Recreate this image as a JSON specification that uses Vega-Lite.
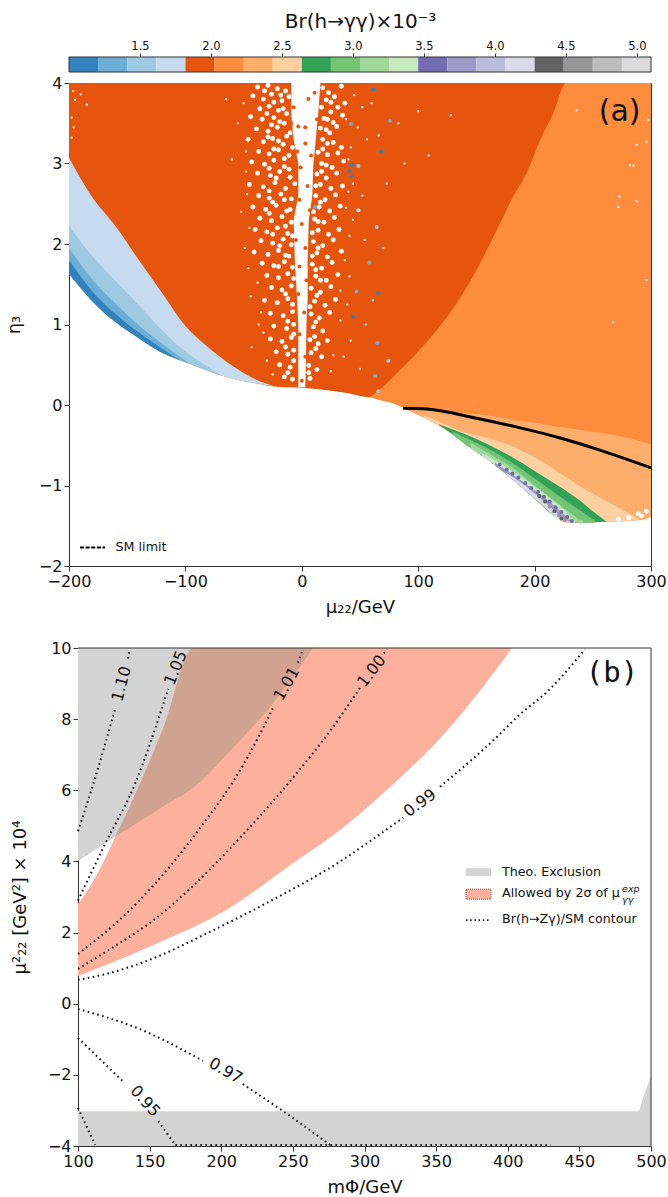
{
"$schema":"https://vega.github.io/schema/vega-lite/v6.json",
"padding":{"left":4,"top":10,"right":0,"bottom":0},
"align":"none",
"spacing":23,
"resolve":{"scale":{"color":"independent"}},
"config":{"font":"DejaVu Sans","view":{"stroke":"#333","strokeWidth":1},"axis":{"grid":false,"labelFontSize":16,"titleFontSize":18,"titleFontWeight":"normal","labelColor":"#111","titleColor":"#111","domainColor":"#333","tickColor":"#333","tickSize":5,"labelOverlap":false,"labelFlush":false},"text":{"color":"#111"}},
"datasets":{
"bands":[
{"mu":-200,"lo":1.63,"hi":4,"bin":5},{"mu":-180,"lo":1.29,"hi":4,"bin":5},{"mu":-160,"lo":1.03,"hi":4,"bin":5},{"mu":-140,"lo":0.83,"hi":4,"bin":5},{"mu":-120,"lo":0.65,"hi":4,"bin":5},{"mu":-100,"lo":0.53,"hi":4,"bin":5},{"mu":-80,"lo":0.42,"hi":4,"bin":5},{"mu":-60,"lo":0.33,"hi":4,"bin":5},{"mu":-40,"lo":0.27,"hi":4,"bin":5},{"mu":-20,"lo":0.225,"hi":4,"bin":5},{"mu":0,"lo":0.215,"hi":4,"bin":5},{"mu":20,"lo":0.187,"hi":4,"bin":5},{"mu":40,"lo":0.145,"hi":4,"bin":5},{"mu":58,"lo":0.095,"hi":4,"bin":5},{"mu":67,"lo":0.14,"hi":4,"bin":5},{"mu":78.6,"lo":0.3,"hi":4,"bin":5},{"mu":95.8,"lo":0.55,"hi":4,"bin":5},{"mu":115.9,"lo":0.88,"hi":4,"bin":5},{"mu":133,"lo":1.2,"hi":4,"bin":5},{"mu":150.2,"lo":1.6,"hi":4,"bin":5},{"mu":167.4,"lo":2.1,"hi":4,"bin":5},{"mu":181.7,"lo":2.5,"hi":4,"bin":5},{"mu":193,"lo":2.8,"hi":4,"bin":5},{"mu":206,"lo":3.25,"hi":4,"bin":5},{"mu":216,"lo":3.55,"hi":4,"bin":5},{"mu":228,"lo":4,"hi":4,"bin":5},
{"mu":-200,"lo":1.63,"hi":3.07,"bin":4},{"mu":-180,"lo":1.29,"hi":2.58,"bin":4},{"mu":-160,"lo":1.03,"hi":2.22,"bin":4},{"mu":-140,"lo":0.83,"hi":1.8,"bin":4},{"mu":-120,"lo":0.65,"hi":1.39,"bin":4},{"mu":-100,"lo":0.53,"hi":0.98,"bin":4},{"mu":-80,"lo":0.42,"hi":0.71,"bin":4},{"mu":-60,"lo":0.33,"hi":0.49,"bin":4},{"mu":-40,"lo":0.27,"hi":0.32,"bin":4},{"mu":-25,"lo":0.235,"hi":0.24,"bin":4},
{"mu":-200,"lo":1.63,"hi":2.22,"bin":3},{"mu":-180,"lo":1.29,"hi":1.85,"bin":3},{"mu":-160,"lo":1.03,"hi":1.54,"bin":3},{"mu":-140,"lo":0.83,"hi":1.24,"bin":3},{"mu":-120,"lo":0.65,"hi":0.93,"bin":3},{"mu":-100,"lo":0.53,"hi":0.66,"bin":3},{"mu":-80,"lo":0.42,"hi":0.47,"bin":3},{"mu":-70,"lo":0.375,"hi":0.38,"bin":3},
{"mu":-200,"lo":1.63,"hi":1.95,"bin":2},{"mu":-180,"lo":1.29,"hi":1.56,"bin":2},{"mu":-160,"lo":1.03,"hi":1.26,"bin":2},{"mu":-140,"lo":0.83,"hi":0.99,"bin":2},{"mu":-120,"lo":0.65,"hi":0.76,"bin":2},{"mu":-100,"lo":0.53,"hi":0.55,"bin":2},{"mu":-95,"lo":0.5,"hi":0.5,"bin":2},
{"mu":-200,"lo":1.63,"hi":1.80,"bin":1},{"mu":-180,"lo":1.29,"hi":1.41,"bin":1},{"mu":-160,"lo":1.03,"hi":1.13,"bin":1},{"mu":-140,"lo":0.83,"hi":0.90,"bin":1},{"mu":-120,"lo":0.65,"hi":0.70,"bin":1},{"mu":-108,"lo":0.58,"hi":0.58,"bin":1},
{"mu":58.6,"lo":0.095,"hi":0.10,"bin":6},{"mu":67,"lo":0.06,"hi":0.19,"bin":6},{"mu":78.6,"lo":0.02,"hi":0.35,"bin":6},{"mu":95.8,"lo":-0.095,"hi":0.6,"bin":6},{"mu":115.9,"lo":-0.24,"hi":0.93,"bin":6},{"mu":133,"lo":-0.40,"hi":1.26,"bin":6},{"mu":150.2,"lo":-0.58,"hi":1.68,"bin":6},{"mu":167.4,"lo":-0.76,"hi":2.17,"bin":6},{"mu":181.7,"lo":-0.93,"hi":2.59,"bin":6},{"mu":193,"lo":-1.07,"hi":2.88,"bin":6},{"mu":206,"lo":-1.23,"hi":3.33,"bin":6},{"mu":216,"lo":-1.35,"hi":3.62,"bin":6},{"mu":227,"lo":-1.46,"hi":4,"bin":6},{"mu":240,"lo":-1.46,"hi":4,"bin":6},{"mu":260,"lo":-1.45,"hi":4,"bin":6},{"mu":280,"lo":-1.44,"hi":4,"bin":6},{"mu":290,"lo":-1.43,"hi":4,"bin":6},{"mu":300,"lo":-1.39,"hi":4,"bin":6},
{"mu":90,"lo":-0.06,"hi":-0.05,"bin":7},{"mu":100,"lo":-0.12,"hi":-0.05,"bin":7},{"mu":120,"lo":-0.27,"hi":-0.08,"bin":7},{"mu":140,"lo":-0.48,"hi":-0.10,"bin":7},{"mu":160,"lo":-0.68,"hi":-0.13,"bin":7},{"mu":180,"lo":-0.91,"hi":-0.18,"bin":7},{"mu":200,"lo":-1.16,"hi":-0.22,"bin":7},{"mu":220,"lo":-1.40,"hi":-0.27,"bin":7},{"mu":240,"lo":-1.46,"hi":-0.31,"bin":7},{"mu":260,"lo":-1.45,"hi":-0.35,"bin":7},{"mu":280,"lo":-1.44,"hi":-0.41,"bin":7},{"mu":300,"lo":-1.39,"hi":-0.49,"bin":7},
{"mu":105,"lo":-0.155,"hi":-0.13,"bin":8},{"mu":120,"lo":-0.27,"hi":-0.22,"bin":8},{"mu":140,"lo":-0.48,"hi":-0.34,"bin":8},{"mu":160,"lo":-0.68,"hi":-0.41,"bin":8},{"mu":180,"lo":-0.91,"hi":-0.51,"bin":8},{"mu":200,"lo":-1.16,"hi":-0.65,"bin":8},{"mu":220,"lo":-1.40,"hi":-0.83,"bin":8},{"mu":240,"lo":-1.46,"hi":-1.02,"bin":8},{"mu":260,"lo":-1.45,"hi":-1.18,"bin":8},{"mu":280,"lo":-1.44,"hi":-1.34,"bin":8},{"mu":290,"lo":-1.43,"hi":-1.42,"bin":8},
{"mu":118,"lo":-0.255,"hi":-0.24,"bin":9},{"mu":120,"lo":-0.27,"hi":-0.25,"bin":9},{"mu":140,"lo":-0.48,"hi":-0.36,"bin":9},{"mu":160,"lo":-0.68,"hi":-0.49,"bin":9},{"mu":180,"lo":-0.91,"hi":-0.64,"bin":9},{"mu":200,"lo":-1.16,"hi":-0.82,"bin":9},{"mu":220,"lo":-1.40,"hi":-1.0,"bin":9},{"mu":240,"lo":-1.46,"hi":-1.2,"bin":9},{"mu":250,"lo":-1.455,"hi":-1.32,"bin":9},{"mu":262,"lo":-1.45,"hi":-1.45,"bin":9},
{"mu":130,"lo":-0.37,"hi":-0.335,"bin":10},{"mu":140,"lo":-0.48,"hi":-0.40,"bin":10},{"mu":160,"lo":-0.68,"hi":-0.54,"bin":10},{"mu":180,"lo":-0.91,"hi":-0.71,"bin":10},{"mu":200,"lo":-1.16,"hi":-0.91,"bin":10},{"mu":220,"lo":-1.40,"hi":-1.12,"bin":10},{"mu":240,"lo":-1.46,"hi":-1.32,"bin":10},{"mu":250,"lo":-1.455,"hi":-1.42,"bin":10},
{"mu":145,"lo":-0.53,"hi":-0.47,"bin":11},{"mu":160,"lo":-0.68,"hi":-0.60,"bin":11},{"mu":180,"lo":-0.91,"hi":-0.77,"bin":11},{"mu":200,"lo":-1.16,"hi":-1.0,"bin":11},{"mu":220,"lo":-1.40,"hi":-1.22,"bin":11},{"mu":240,"lo":-1.46,"hi":-1.45,"bin":11},
{"mu":155,"lo":-0.63,"hi":-0.60,"bin":12},{"mu":170,"lo":-0.79,"hi":-0.72,"bin":12},{"mu":190,"lo":-1.03,"hi":-0.91,"bin":12},{"mu":210,"lo":-1.28,"hi":-1.12,"bin":12},{"mu":225,"lo":-1.45,"hi":-1.30,"bin":12},{"mu":235,"lo":-1.46,"hi":-1.45,"bin":12},
{"mu":166,"lo":-0.75,"hi":-0.72,"bin":14},{"mu":180,"lo":-0.91,"hi":-0.85,"bin":14},{"mu":200,"lo":-1.16,"hi":-1.06,"bin":14},{"mu":216,"lo":-1.35,"hi":-1.24,"bin":14},{"mu":232,"lo":-1.46,"hi":-1.45,"bin":14},
{"mu":175,"lo":-0.85,"hi":-0.84,"bin":16},{"mu":190,"lo":-1.03,"hi":-0.98,"bin":16},{"mu":205,"lo":-1.22,"hi":-1.16,"bin":16},{"mu":219,"lo":-1.39,"hi":-1.34,"bin":16},{"mu":227,"lo":-1.46,"hi":-1.45,"bin":16}
],
"gap":[
{"eta":4,"lo":-9,"hi":16,"bin":0},{"eta":3.6,"lo":-9,"hi":14,"bin":0},{"eta":3.3,"lo":-7,"hi":12,"bin":0},{"eta":3,"lo":-3,"hi":10,"bin":0},{"eta":2.6,"lo":-3,"hi":9,"bin":0},{"eta":2.3,"lo":-7,"hi":6,"bin":0},{"eta":1.8,"lo":-6,"hi":5,"bin":0},{"eta":1.3,"lo":-4,"hi":5,"bin":0},{"eta":1,"lo":-3,"hi":4,"bin":0},{"eta":0.5,"lo":-3,"hi":3.5,"bin":0},{"eta":0.22,"lo":-3,"hi":3,"bin":0}
],
"specks":[
{"mu":-38,"eta":3.95,"bin":0},{"mu":-29,"eta":3.97,"bin":0},{"mu":-21,"eta":3.93,"bin":0},{"mu":-14,"eta":3.9,"bin":0},{"mu":18,"eta":3.94,"bin":0},{"mu":23,"eta":3.88,"bin":0},{"mu":34,"eta":3.96,"bin":0},
{"mu":-42,"eta":3.84,"bin":0},{"mu":-33,"eta":3.8,"bin":0},{"mu":-26,"eta":3.86,"bin":0},{"mu":-17,"eta":3.78,"bin":0},{"mu":-11,"eta":3.83,"bin":0},{"mu":21,"eta":3.79,"bin":0},{"mu":28,"eta":3.83,"bin":0},{"mu":37,"eta":3.75,"bin":0},
{"mu":-36,"eta":3.68,"bin":0},{"mu":-28,"eta":3.71,"bin":0},{"mu":-20,"eta":3.66,"bin":0},{"mu":-13,"eta":3.62,"bin":0},{"mu":17,"eta":3.7,"bin":0},{"mu":25,"eta":3.64,"bin":0},{"mu":31,"eta":3.7,"bin":0},
{"mu":-44,"eta":3.58,"bin":0},{"mu":-34,"eta":3.55,"bin":0},{"mu":-24,"eta":3.57,"bin":0},{"mu":-15,"eta":3.5,"bin":0},{"mu":19,"eta":3.56,"bin":0},{"mu":27,"eta":3.51,"bin":0},{"mu":35,"eta":3.6,"bin":0},
{"mu":-39,"eta":3.43,"bin":0},{"mu":-29,"eta":3.4,"bin":0},{"mu":-21,"eta":3.45,"bin":0},{"mu":-10,"eta":3.38,"bin":0},{"mu":16,"eta":3.44,"bin":0},{"mu":24,"eta":3.38,"bin":0},{"mu":30,"eta":3.46,"bin":0},
{"mu":-46,"eta":3.3,"bin":0},{"mu":-33,"eta":3.27,"bin":0},{"mu":-25,"eta":3.31,"bin":0},{"mu":-16,"eta":3.24,"bin":0},{"mu":18,"eta":3.3,"bin":0},{"mu":27,"eta":3.26,"bin":0},{"mu":34,"eta":3.2,"bin":0},
{"mu":-37,"eta":3.15,"bin":0},{"mu":-28,"eta":3.12,"bin":0},{"mu":-20,"eta":3.17,"bin":0},{"mu":-11,"eta":3.1,"bin":0},{"mu":14,"eta":3.14,"bin":0},{"mu":22,"eta":3.11,"bin":0},{"mu":31,"eta":3.13,"bin":0},
{"mu":-43,"eta":3.02,"bin":0},{"mu":-32,"eta":2.99,"bin":0},{"mu":-24,"eta":3.04,"bin":0},{"mu":-15,"eta":2.96,"bin":0},{"mu":17,"eta":3,"bin":0},{"mu":26,"eta":2.95,"bin":0},{"mu":36,"eta":3.03,"bin":0},
{"mu":-38,"eta":2.88,"bin":0},{"mu":-27,"eta":2.85,"bin":0},{"mu":-19,"eta":2.9,"bin":0},{"mu":-10,"eta":2.83,"bin":0},{"mu":13,"eta":2.87,"bin":0},{"mu":21,"eta":2.82,"bin":0},{"mu":30,"eta":2.88,"bin":0},
{"mu":-45,"eta":2.74,"bin":0},{"mu":-33,"eta":2.71,"bin":0},{"mu":-23,"eta":2.76,"bin":0},{"mu":-14,"eta":2.69,"bin":0},{"mu":16,"eta":2.74,"bin":0},{"mu":25,"eta":2.69,"bin":0},{"mu":35,"eta":2.72,"bin":0},
{"mu":-37,"eta":2.6,"bin":0},{"mu":-28,"eta":2.57,"bin":0},{"mu":-18,"eta":2.62,"bin":0},{"mu":-9,"eta":2.56,"bin":0},{"mu":12,"eta":2.6,"bin":0},{"mu":20,"eta":2.55,"bin":0},{"mu":29,"eta":2.61,"bin":0},
{"mu":-42,"eta":2.46,"bin":0},{"mu":-31,"eta":2.43,"bin":0},{"mu":-22,"eta":2.48,"bin":0},{"mu":-13,"eta":2.41,"bin":0},{"mu":15,"eta":2.46,"bin":0},{"mu":24,"eta":2.41,"bin":0},{"mu":33,"eta":2.47,"bin":0},
{"mu":-36,"eta":2.32,"bin":0},{"mu":-26,"eta":2.29,"bin":0},{"mu":-17,"eta":2.34,"bin":0},{"mu":-9,"eta":2.27,"bin":0},{"mu":11,"eta":2.31,"bin":0},{"mu":19,"eta":2.27,"bin":0},{"mu":28,"eta":2.33,"bin":0},
{"mu":-40,"eta":2.18,"bin":0},{"mu":-30,"eta":2.15,"bin":0},{"mu":-21,"eta":2.2,"bin":0},{"mu":-12,"eta":2.13,"bin":0},{"mu":14,"eta":2.17,"bin":0},{"mu":23,"eta":2.12,"bin":0},{"mu":32,"eta":2.18,"bin":0},
{"mu":-35,"eta":2.04,"bin":0},{"mu":-25,"eta":2.01,"bin":0},{"mu":-16,"eta":2.06,"bin":0},{"mu":-9,"eta":1.99,"bin":0},{"mu":10,"eta":2.03,"bin":0},{"mu":18,"eta":1.98,"bin":0},{"mu":27,"eta":2.05,"bin":0},
{"mu":-41,"eta":1.9,"bin":0},{"mu":-29,"eta":1.87,"bin":0},{"mu":-20,"eta":1.92,"bin":0},{"mu":-11,"eta":1.85,"bin":0},{"mu":13,"eta":1.89,"bin":0},{"mu":22,"eta":1.84,"bin":0},{"mu":34,"eta":1.91,"bin":0},
{"mu":-34,"eta":1.76,"bin":0},{"mu":-24,"eta":1.73,"bin":0},{"mu":-15,"eta":1.78,"bin":0},{"mu":-8,"eta":1.71,"bin":0},{"mu":9,"eta":1.75,"bin":0},{"mu":17,"eta":1.7,"bin":0},{"mu":26,"eta":1.77,"bin":0},
{"mu":-30,"eta":1.61,"bin":0},{"mu":-20,"eta":1.58,"bin":0},{"mu":-12,"eta":1.63,"bin":0},{"mu":12,"eta":1.6,"bin":0},{"mu":21,"eta":1.55,"bin":0},{"mu":31,"eta":1.62,"bin":0},
{"mu":-26,"eta":1.46,"bin":0},{"mu":-17,"eta":1.43,"bin":0},{"mu":-9,"eta":1.48,"bin":0},{"mu":8,"eta":1.45,"bin":0},{"mu":16,"eta":1.4,"bin":0},{"mu":25,"eta":1.47,"bin":0},
{"mu":-32,"eta":1.3,"bin":0},{"mu":-21,"eta":1.27,"bin":0},{"mu":-12,"eta":1.32,"bin":0},{"mu":11,"eta":1.29,"bin":0},{"mu":20,"eta":1.24,"bin":0},{"mu":29,"eta":1.31,"bin":0},
{"mu":-27,"eta":1.14,"bin":0},{"mu":-16,"eta":1.11,"bin":0},{"mu":-8,"eta":1.16,"bin":0},{"mu":8,"eta":1.13,"bin":0},{"mu":15,"eta":1.08,"bin":0},{"mu":24,"eta":1.15,"bin":0},
{"mu":-24,"eta":0.98,"bin":0},{"mu":-13,"eta":0.95,"bin":0},{"mu":-7,"eta":1,"bin":0},{"mu":10,"eta":0.97,"bin":0},{"mu":18,"eta":0.92,"bin":0},
{"mu":-27,"eta":0.82,"bin":0},{"mu":-17,"eta":0.79,"bin":0},{"mu":-9,"eta":0.84,"bin":0},{"mu":7,"eta":0.81,"bin":0},{"mu":14,"eta":0.76,"bin":0},{"mu":22,"eta":0.8,"bin":0},
{"mu":-22,"eta":0.66,"bin":0},{"mu":-12,"eta":0.63,"bin":0},{"mu":-7,"eta":0.68,"bin":0},{"mu":8,"eta":0.65,"bin":0},{"mu":17,"eta":0.6,"bin":0},
{"mu":-19,"eta":0.5,"bin":0},{"mu":-10,"eta":0.47,"bin":0},{"mu":6,"eta":0.49,"bin":0},{"mu":13,"eta":0.44,"bin":0},
{"mu":-15,"eta":0.35,"bin":0},{"mu":-8,"eta":0.32,"bin":0},{"mu":7,"eta":0.33,"bin":0},
{"mu":-32,"eta":3.9,"bin":0},{"mu":-18,"eta":3.85,"bin":0},{"mu":25,"eta":3.76,"bin":0},{"mu":-24,"eta":3.76,"bin":0},{"mu":-16,"eta":3.68,"bin":0},{"mu":22,"eta":3.55,"bin":0},{"mu":-30,"eta":3.62,"bin":0},{"mu":-19,"eta":3.52,"bin":0},{"mu":21,"eta":3.42,"bin":0},{"mu":-26,"eta":3.48,"bin":0},{"mu":-13,"eta":3.34,"bin":0},{"mu":22,"eta":3.25,"bin":0},{"mu":-29,"eta":3.33,"bin":0},{"mu":-20,"eta":3.28,"bin":0},{"mu":-8,"eta":3.2,"bin":0},{"mu":18,"eta":3.18,"bin":0},{"mu":-24,"eta":3.18,"bin":0},{"mu":-15,"eta":3.06,"bin":0},{"mu":21,"eta":2.98,"bin":0},{"mu":-28,"eta":2.94,"bin":0},{"mu":-11,"eta":2.93,"bin":0},{"mu":17,"eta":2.9,"bin":0},{"mu":-22,"eta":2.82,"bin":0},{"mu":-6,"eta":2.75,"bin":0},{"mu":12,"eta":2.72,"bin":0},{"mu":-28,"eta":2.66,"bin":0},{"mu":-15,"eta":2.55,"bin":0},{"mu":16,"eta":2.52,"bin":0},{"mu":-25,"eta":2.52,"bin":0},{"mu":-10,"eta":2.43,"bin":0},{"mu":10,"eta":2.4,"bin":0},{"mu":-28,"eta":2.38,"bin":0},{"mu":-14,"eta":2.22,"bin":0},{"mu":14,"eta":2.28,"bin":0},{"mu":-25,"eta":2.12,"bin":0},{"mu":-8,"eta":2.1,"bin":0},{"mu":9,"eta":2.14,"bin":0},{"mu":-19,"eta":1.98,"bin":0},{"mu":14,"eta":1.95,"bin":0},{"mu":-14,"eta":1.86,"bin":0},{"mu":9,"eta":1.85,"bin":0},{"mu":-20,"eta":1.72,"bin":0},{"mu":12,"eta":1.68,"bin":0},{"mu":-7,"eta":1.57,"bin":0},{"mu":16,"eta":1.55,"bin":0},{"mu":-14,"eta":1.38,"bin":0},{"mu":13,"eta":1.36,"bin":0},{"mu":-8,"eta":1.25,"bin":0},{"mu":7,"eta":1.22,"bin":0},{"mu":-12,"eta":1.04,"bin":0},{"mu":12,"eta":1.03,"bin":0},{"mu":-7,"eta":0.88,"bin":0},{"mu":11,"eta":0.85,"bin":0},{"mu":-14,"eta":0.72,"bin":0},{"mu":12,"eta":0.7,"bin":0},{"mu":-7,"eta":0.55,"bin":0},{"mu":-12,"eta":0.4,"bin":0},{"mu":6,"eta":0.4,"bin":0},
{"mu":296,"eta":-1.32,"bin":0},{"mu":289,"eta":-1.35,"bin":0},{"mu":281,"eta":-1.4,"bin":0},{"mu":272,"eta":-1.42,"bin":0},{"mu":292,"eta":-1.38,"bin":0},
{"mu":3,"eta":3.45,"bin":5},{"mu":-3,"eta":3.46,"bin":5},{"mu":5.6,"eta":3.8,"bin":5},{"mu":3,"eta":3.25,"bin":5},{"mu":-4,"eta":3.15,"bin":5},{"mu":-7,"eta":3.7,"bin":5},{"mu":-9,"eta":3.5,"bin":5},{"mu":11,"eta":3.88,"bin":5},{"mu":13,"eta":3.55,"bin":5},{"mu":8,"eta":3.1,"bin":5},{"mu":-1,"eta":2.95,"bin":5},{"mu":5,"eta":2.72,"bin":5},{"mu":-2,"eta":2.55,"bin":5},{"mu":7,"eta":2.42,"bin":5},{"mu":0,"eta":2.25,"bin":5},{"mu":-5,"eta":2.05,"bin":5},{"mu":3,"eta":1.95,"bin":5},{"mu":-2,"eta":1.72,"bin":5},{"mu":4,"eta":1.55,"bin":5},{"mu":-3,"eta":1.38,"bin":5},{"mu":2,"eta":1.15,"bin":5},{"mu":-2,"eta":0.88,"bin":5},{"mu":3,"eta":0.6,"bin":5},{"mu":0,"eta":0.3,"bin":5},
{"mu":61.5,"eta":3.92,"bin":1},{"mu":42.3,"eta":3.49,"bin":2},{"mu":75.8,"eta":3.53,"bin":2},{"mu":68,"eta":3.15,"bin":1},{"mu":42.8,"eta":2.98,"bin":1},{"mu":48.6,"eta":2.97,"bin":3},{"mu":41.4,"eta":2.91,"bin":1},{"mu":42.8,"eta":2.84,"bin":1},{"mu":11.3,"eta":2.46,"bin":2},{"mu":48.6,"eta":2.42,"bin":4},{"mu":64.3,"eta":2.21,"bin":3},{"mu":58,"eta":1.77,"bin":2},{"mu":47,"eta":1.41,"bin":2},{"mu":65.5,"eta":1.39,"bin":1},{"mu":44,"eta":1.1,"bin":1},{"mu":64.9,"eta":0.77,"bin":2},{"mu":74.3,"eta":0.55,"bin":3},{"mu":62.9,"eta":0.36,"bin":2},{"mu":65.8,"eta":0.17,"bin":3},
{"mu":170,"eta":-0.74,"bin":13},{"mu":176,"eta":-0.8,"bin":13},{"mu":181,"eta":-0.85,"bin":13},{"mu":186,"eta":-0.9,"bin":13},{"mu":192,"eta":-0.97,"bin":13},{"mu":197,"eta":-1.03,"bin":13},{"mu":203,"eta":-1.08,"bin":13},{"mu":208,"eta":-1.14,"bin":13},{"mu":213,"eta":-1.2,"bin":13},{"mu":218,"eta":-1.27,"bin":13},{"mu":223,"eta":-1.33,"bin":13},{"mu":228,"eta":-1.39,"bin":13},{"mu":232,"eta":-1.44,"bin":13},
{"mu":204,"eta":-1.13,"bin":17},{"mu":209,"eta":-1.2,"bin":17},{"mu":213,"eta":-1.26,"bin":18},{"mu":217,"eta":-1.32,"bin":17},{"mu":221,"eta":-1.37,"bin":18},{"mu":223,"eta":-1.41,"bin":17},{"mu":226,"eta":-1.43,"bin":18},
{"mu":243,"eta":-1.44,"bin":10},{"mu":250,"eta":-1.44,"bin":10},{"mu":240,"eta":-1.45,"bin":11}
],
"flecks":[
{"mu":-196.3,"eta":3.9},{"mu":-194.8,"eta":3.79},{"mu":-184.8,"eta":3.73},{"mu":-197.7,"eta":3.57},{"mu":-197.7,"eta":3.32},{"mu":-190,"eta":3.86},{"mu":-196,"eta":3.45},{"mu":297.7,"eta":3.54},{"mu":287.7,"eta":3.23},{"mu":272,"eta":2.46},{"mu":287.7,"eta":2.53},{"mu":296,"eta":3.27},{"mu":267.7,"eta":1.03},{"mu":296,"eta":1.55},{"mu":282,"eta":2.98},{"mu":285,"eta":2.97},{"mu":273,"eta":2.59},{"mu":236,"eta":3.66},
{"mu":45,"eta":3.85},{"mu":52,"eta":3.7},{"mu":60,"eta":3.75},{"mu":83,"eta":3.5},{"mu":48,"eta":3.45},{"mu":42,"eta":3.2},{"mu":56,"eta":3.3},{"mu":66,"eta":3.35},{"mu":88,"eta":3.0},{"mu":40,"eta":2.65},{"mu":52,"eta":2.6},{"mu":73,"eta":2.75},{"mu":44,"eta":2.3},{"mu":54,"eta":2.05},{"mu":70,"eta":1.95},{"mu":41,"eta":1.6},{"mu":61,"eta":1.3},{"mu":39,"eta":1.25},{"mu":55,"eta":1.0},{"mu":42,"eta":0.8},{"mu":36,"eta":0.6},{"mu":50,"eta":0.45},{"mu":109,"eta":3.1},{"mu":100,"eta":3.65},{"mu":128,"eta":3.6},
{"mu":-48,"eta":2.9},{"mu":-52,"eta":2.4},{"mu":-49,"eta":1.95},{"mu":-55,"eta":3.5},{"mu":-60,"eta":3.05},{"mu":-44,"eta":1.35},{"mu":-37,"eta":1.0},{"mu":-65,"eta":3.8},{"mu":-43,"eta":0.72},
{"mu":38,"eta":3.55},{"mu":40,"eta":3.05},{"mu":44,"eta":2.75},{"mu":38,"eta":2.45},{"mu":41,"eta":2.1},{"mu":37,"eta":1.8},{"mu":33,"eta":1.42},{"mu":33,"eta":1.05},{"mu":27,"eta":0.62},{"mu":25,"eta":0.42},{"mu":-50,"eta":3.75},{"mu":-48,"eta":3.15},{"mu":-47,"eta":2.62},{"mu":-45,"eta":2.2},{"mu":-46,"eta":1.7},{"mu":-38,"eta":1.52},{"mu":-35,"eta":1.15},{"mu":-33,"eta":0.9},{"mu":-30,"eta":0.55},{"mu":-25,"eta":0.38}
],
"black":[
{"mu":87,"eta":-0.04},{"mu":107.5,"eta":-0.05},{"mu":150,"eta":-0.165},{"mu":185,"eta":-0.275},{"mu":222,"eta":-0.41},{"mu":256,"eta":-0.56},{"mu":300,"eta":-0.78}
],
"cbar":[
{"lo":1.0,"hi":1.205,"bin":1},{"lo":1.205,"hi":1.41,"bin":2},{"lo":1.41,"hi":1.615,"bin":3},{"lo":1.615,"hi":1.82,"bin":4},{"lo":1.82,"hi":2.025,"bin":5},{"lo":2.025,"hi":2.23,"bin":6},{"lo":2.23,"hi":2.435,"bin":7},{"lo":2.435,"hi":2.64,"bin":8},{"lo":2.64,"hi":2.845,"bin":9},{"lo":2.845,"hi":3.05,"bin":10},{"lo":3.05,"hi":3.255,"bin":11},{"lo":3.255,"hi":3.46,"bin":12},{"lo":3.46,"hi":3.665,"bin":13},{"lo":3.665,"hi":3.87,"bin":14},{"lo":3.87,"hi":4.075,"bin":15},{"lo":4.075,"hi":4.28,"bin":16},{"lo":4.28,"hi":4.485,"bin":17},{"lo":4.485,"hi":4.69,"bin":18},{"lo":4.69,"hi":4.895,"bin":19},{"lo":4.895,"hi":5.1,"bin":20}
],
"regions":[
{"m":100,"lo":4.01,"hi":10,"region":"theory"},{"m":124.6,"lo":4.66,"hi":10,"region":"theory"},{"m":150,"lo":5.3,"hi":10,"region":"theory"},{"m":180,"lo":6.06,"hi":10,"region":"theory"},{"m":208,"lo":7.19,"hi":10,"region":"theory"},{"m":236,"lo":8.43,"hi":10,"region":"theory"},{"m":264,"lo":10,"hi":10,"region":"theory"},
{"m":100,"lo":-4,"hi":-3.02,"region":"theory2"},{"m":300,"lo":-4,"hi":-3.02,"region":"theory2"},{"m":491,"lo":-4,"hi":-3.02,"region":"theory2"},{"m":495.5,"lo":-4,"hi":-2.52,"region":"theory2"},{"m":500,"lo":-4,"hi":-2.03,"region":"theory2"},
{"m":100,"lo":0.78,"hi":2.8,"region":"allowed"},{"m":110.7,"lo":0.95,"hi":3.45,"region":"allowed"},{"m":124.7,"lo":1.17,"hi":4.57,"region":"allowed"},{"m":141,"lo":1.45,"hi":5.98,"region":"allowed"},{"m":159.6,"lo":1.78,"hi":7.76,"region":"allowed"},{"m":180.5,"lo":2.15,"hi":10,"region":"allowed"},{"m":204,"lo":2.65,"hi":10,"region":"allowed"},{"m":250,"lo":3.95,"hi":10,"region":"allowed"},{"m":276,"lo":4.67,"hi":10,"region":"allowed"},{"m":299,"lo":5.42,"hi":10,"region":"allowed"},{"m":322.5,"lo":6.26,"hi":10,"region":"allowed"},{"m":357.4,"lo":7.67,"hi":10,"region":"allowed"},{"m":380.6,"lo":8.8,"hi":10,"region":"allowed"},{"m":403,"lo":10,"hi":10,"region":"allowed"},
{"m":126,"lo":4.7,"hi":4.7,"region":"overlap"},{"m":141,"lo":5.07,"hi":5.98,"region":"overlap"},{"m":159.6,"lo":5.55,"hi":7.76,"region":"overlap"},{"m":180.5,"lo":6.07,"hi":10,"region":"overlap"},{"m":208,"lo":7.19,"hi":10,"region":"overlap"},{"m":236,"lo":8.43,"hi":10,"region":"overlap"},{"m":264,"lo":10,"hi":10,"region":"overlap"}
],
"contours":[
{"m":100,"v":0.67,"seg":"0.99a"},{"m":118,"v":0.82,"seg":"0.99a"},{"m":136,"v":1.03,"seg":"0.99a"},{"m":160,"v":1.4,"seg":"0.99a"},{"m":185,"v":1.88,"seg":"0.99a"},{"m":234,"v":2.88,"seg":"0.99a"},{"m":283,"v":4.0,"seg":"0.99a"},{"m":306,"v":4.63,"seg":"0.99a"},{"m":327,"v":5.23,"seg":"0.99a"},
{"m":352.7,"v":6.1,"seg":"0.99b"},{"m":395,"v":7.6,"seg":"0.99b"},{"m":406,"v":8.04,"seg":"0.99b"},{"m":429.5,"v":8.85,"seg":"0.99b"},{"m":454,"v":9.97,"seg":"0.99b"},
{"m":100,"v":0.98,"seg":"1.00a"},{"m":125,"v":1.6,"seg":"1.00a"},{"m":153.7,"v":2.38,"seg":"1.00a"},{"m":180,"v":3.3,"seg":"1.00a"},{"m":213,"v":4.66,"seg":"1.00a"},{"m":250,"v":6.35,"seg":"1.00a"},{"m":276,"v":7.67,"seg":"1.00a"},{"m":296.9,"v":8.88,"seg":"1.00a"},
{"m":313.5,"v":9.85,"seg":"1.00b"},{"m":315.5,"v":9.97,"seg":"1.00b"},
{"m":100,"v":1.4,"seg":"1.01a"},{"m":128,"v":2.32,"seg":"1.01a"},{"m":180,"v":4.66,"seg":"1.01a"},{"m":218,"v":6.9,"seg":"1.01a"},{"m":236,"v":8.3,"seg":"1.01a"},
{"m":253.6,"v":9.58,"seg":"1.01b"},{"m":257,"v":9.97,"seg":"1.01b"},
{"m":100,"v":2.9,"seg":"1.05a"},{"m":118.8,"v":4.48,"seg":"1.05a"},{"m":139.8,"v":6.18,"seg":"1.05a"},{"m":163,"v":8.85,"seg":"1.05a"},
{"m":100,"v":4.85,"seg":"1.10a"},{"m":110.7,"v":6.18,"seg":"1.10a"},{"m":126,"v":8.3,"seg":"1.10a"},
{"m":135,"v":9.7,"seg":"1.10b"},{"m":136,"v":9.97,"seg":"1.10b"},
{"m":100,"v":-0.15,"seg":"0.97a"},{"m":143,"v":-0.71,"seg":"0.97a"},{"m":187.3,"v":-1.61,"seg":"0.97a"},
{"m":215,"v":-2.26,"seg":"0.97b"},{"m":246,"v":-3.1,"seg":"0.97b"},{"m":276,"v":-3.97,"seg":"0.97b"},
{"m":100,"v":-0.96,"seg":"0.95a"},{"m":131,"v":-2.17,"seg":"0.95a"},
{"m":156,"v":-3.3,"seg":"0.95b"},{"m":168,"v":-3.97,"seg":"0.95b"},
{"m":100,"v":-2.93,"seg":"0.93"},{"m":112,"v":-3.97,"seg":"0.93"},
{"m":168,"v":-3.97,"seg":"edge"},{"m":430,"v":-3.97,"seg":"edge"}
]
},
"vconcat":[
{"width":582,"height":483,
"layer":[
{"encoding":{"x":{"field":"mu","type":"quantitative","scale":{"domain":[-200,300],"nice":false,"zero":false},"axis":{"title":"μ₂₂/GeV","values":[-200,-100,0,100,200,300],"titlePadding":9}}},
"layer":[
{"data":{"name":"bands"},"mark":{"type":"area","interpolate":"monotone"},"encoding":{"y":{"field":"lo","type":"quantitative","scale":{"domain":[-2,4],"nice":false,"zero":false},"axis":{"title":"η₃","format":"d","values":[-2,-1,0,1,2,3,4],"titlePadding":15}},"y2":{"field":"hi"},"color":{"field":"bin","type":"nominal","legend":null,"scale":{"domain":[0,1,2,3,4,5,6,7,8,9,10,11,12,13,14,15,16,17,18,19,20],"range":["#ffffff","#3182bd","#6baed6","#9ecae1","#c6dbef","#e6550d","#fd8d3c","#fdae6b","#fdd0a2","#31a354","#74c476","#a1d99b","#c7e9c0","#756bb1","#9e9ac8","#bcbddc","#dadaeb","#636363","#969696","#bdbdbd","#d9d9d9"]}}}},
{"data":{"name":"gap"},"mark":{"type":"area","orient":"horizontal"},"encoding":{"y":{"field":"eta","type":"quantitative"},"x":{"field":"lo","type":"quantitative"},"x2":{"field":"hi"},"color":{"field":"bin","type":"nominal"}}},
{"data":{"name":"flecks"},"mark":{"type":"circle","size":5,"opacity":1,"color":"#ffffff"},"encoding":{"y":{"field":"eta","type":"quantitative"}}},
{"data":{"name":"specks"},"transform":[{"filter":"datum.bin === 0"}],"mark":{"type":"circle","size":24,"opacity":1},"encoding":{"y":{"field":"eta","type":"quantitative"},"color":{"field":"bin","type":"nominal"}}},
{"data":{"name":"specks"},"transform":[{"filter":"datum.bin !== 0"}],"mark":{"type":"circle","size":16,"opacity":1},"encoding":{"y":{"field":"eta","type":"quantitative"},"color":{"field":"bin","type":"nominal"}}},
{"data":{"name":"black"},"mark":{"type":"line","color":"#000","strokeWidth":3,"interpolate":"monotone"},"encoding":{"y":{"field":"eta","type":"quantitative"}}},
{"data":{"values":[{"mu":-190.5,"eta":-1.77},{"mu":-169,"eta":-1.77}]},"mark":{"type":"line","color":"#000","strokeWidth":1.8,"strokeDash":[4,1.6]},"encoding":{"y":{"field":"eta","type":"quantitative"}}},
{"data":{"values":[{"mu":-160,"eta":-1.77,"t":"SM limit"}]},"mark":{"type":"text","align":"left","baseline":"middle","fontSize":12.7},"encoding":{"y":{"field":"eta","type":"quantitative"},"text":{"field":"t"}}},
{"data":{"values":[{"mu":273,"eta":3.64,"t":"(a)"}]},"mark":{"type":"text","align":"center","baseline":"middle","fontSize":30},"encoding":{"y":{"field":"eta","type":"quantitative"},"text":{"field":"t"}}}
]},
{"data":{"name":"cbar"},
"layer":[
{"mark":{"type":"rect"},"encoding":{"x":{"field":"lo","type":"quantitative","scale":{"domain":[1,5.1],"nice":false,"zero":false},"axis":{"orient":"top","offset":26,"title":"Br(h→γγ)×10⁻³","titleFontSize":20,"titlePadding":9,"values":[1.5,2,2.5,3,3.5,4,4.5,5],"format":".1f","labelFontSize":11.5,"tickSize":4,"domain":false}},"x2":{"field":"hi"},"y":{"datum":0,"type":"quantitative","scale":{"domain":[0,1],"range":[-11,-26]},"axis":null},"y2":{"datum":1},"color":{"field":"bin","type":"nominal"}}},
{"mark":{"type":"rect","fill":null,"fillOpacity":0,"stroke":"#333","strokeWidth":1},"transform":[{"aggregate":[{"op":"min","field":"lo","as":"a"},{"op":"max","field":"hi","as":"b"}]}],"encoding":{"x":{"field":"a","type":"quantitative"},"x2":{"field":"b"},"y":{"datum":0,"type":"quantitative"},"y2":{"datum":1}}}
]}
],
"resolve":{"scale":{"x":"independent","y":"independent"}}
},
{"width":582,"height":498,
"view":{"stroke":null},
"encoding":{"x":{"field":"m","type":"quantitative","scale":{"domain":[100,500],"nice":false,"zero":false,"range":[9,582]},"axis":{"title":"mΦ/GeV","values":[100,150,200,250,300,350,400,450,500],"titlePadding":9}}},
"layer":[
{"data":{"name":"regions"},"mark":{"type":"area","interpolate":"monotone"},"encoding":{"y":{"field":"lo","type":"quantitative","scale":{"domain":[-4,10],"nice":false,"zero":false},"axis":{"title":"μ²₂₂ [GeV²] × 10⁴","format":"d","values":[-4,-2,0,2,4,6,8,10],"titlePadding":18,"offset":-9}},"y2":{"field":"hi"},"color":{"field":"region","type":"nominal","legend":null,"scale":{"domain":["theory","theory2","allowed","overlap"],"range":["#d3d3d3","#d3d3d3","#fdb09c","#d0a290"]}}}},
{"data":{"name":"contours"},"mark":{"type":"line","color":"#111","strokeWidth":2,"strokeDash":[1.6,3.4],"interpolate":"monotone"},"encoding":{"y":{"field":"v","type":"quantitative"},"detail":{"field":"seg"}}},
{"data":{"values":[{"m":100,"m2":500,"v":10}]},"mark":{"type":"rule","color":"#333","strokeWidth":1},"encoding":{"x":{"field":"m","type":"quantitative"},"x2":{"field":"m2"},"y":{"field":"v","type":"quantitative"}}},
{"data":{"values":[{"m":500,"v":-4,"v2":10}]},"mark":{"type":"rule","color":"#333","strokeWidth":1},"encoding":{"x":{"field":"m","type":"quantitative"},"y":{"field":"v","type":"quantitative"},"y2":{"field":"v2"}}},
{"data":{"values":[{"m":130.5,"v":8.99,"t":"1.10"}]},"mark":{"type":"text","angle":-75,"fontSize":16,"align":"center","baseline":"middle"},"encoding":{"y":{"field":"v","type":"quantitative"},"text":{"field":"t"}}},
{"data":{"values":[{"m":168.2,"v":9.44,"t":"1.05"}]},"mark":{"type":"text","angle":-68,"fontSize":16,"align":"center","baseline":"middle"},"encoding":{"y":{"field":"v","type":"quantitative"},"text":{"field":"t"}}},
{"data":{"values":[{"m":245.7,"v":8.99,"t":"1.01"}]},"mark":{"type":"text","angle":-60,"fontSize":16,"align":"center","baseline":"middle"},"encoding":{"y":{"field":"v","type":"quantitative"},"text":{"field":"t"}}},
{"data":{"values":[{"m":305,"v":9.35,"t":"1.00"}]},"mark":{"type":"text","angle":-52,"fontSize":16,"align":"center","baseline":"middle"},"encoding":{"y":{"field":"v","type":"quantitative"},"text":{"field":"t"}}},
{"data":{"values":[{"m":338.7,"v":5.64,"t":"0.99"}]},"mark":{"type":"text","angle":-36,"fontSize":16,"align":"center","baseline":"middle"},"encoding":{"y":{"field":"v","type":"quantitative"},"text":{"field":"t"}}},
{"data":{"values":[{"m":203.1,"v":-1.89,"t":"0.97"}]},"mark":{"type":"text","angle":30,"fontSize":16,"align":"center","baseline":"middle"},"encoding":{"y":{"field":"v","type":"quantitative"},"text":{"field":"t"}}},
{"data":{"values":[{"m":146.8,"v":-2.74,"t":"0.95"}]},"mark":{"type":"text","angle":48,"fontSize":16,"align":"center","baseline":"middle"},"encoding":{"y":{"field":"v","type":"quantitative"},"text":{"field":"t"}}},
{"data":{"values":[{"m":370.9,"m2":388.3,"v":3.81,"v2":3.59}]},"mark":{"type":"rect","color":"#d3d3d3"},"encoding":{"x":{"field":"m","type":"quantitative"},"x2":{"field":"m2"},"y":{"field":"v","type":"quantitative"},"y2":{"field":"v2"}}},
{"data":{"values":[{"m":370.9,"m2":388.3,"v":3.22,"v2":2.94}]},"mark":{"type":"rect","fill":"#fdb09c","stroke":"#8a4a38","strokeWidth":1,"strokeDash":[1,1]},"encoding":{"x":{"field":"m","type":"quantitative"},"x2":{"field":"m2"},"y":{"field":"v","type":"quantitative"},"y2":{"field":"v2"}}},
{"data":{"values":[{"m":370.9,"v":2.35},{"m":388.3,"v":2.35}]},"mark":{"type":"line","color":"#111","strokeWidth":1.6,"strokeDash":[1.4,2.8]},"encoding":{"y":{"field":"v","type":"quantitative"}}},
{"data":{"values":[{"m":396,"v":3.7,"t":"Theo. Exclusion"},{"m":396,"v":3.11,"t":"Allowed by 2σ of μ"},{"m":396,"v":2.38,"t":"Br(h→Zγ)/SM contour"}]},"mark":{"type":"text","align":"left","baseline":"middle","fontSize":12.7},"encoding":{"y":{"field":"v","type":"quantitative"},"text":{"field":"t"}}},
{"data":{"values":[{"m":479.8,"v":3.22,"t":"exp"}]},"mark":{"type":"text","align":"left","baseline":"middle","fontSize":9.5,"fontStyle":"italic"},"encoding":{"y":{"field":"v","type":"quantitative"},"text":{"field":"t"}}},
{"data":{"values":[{"m":479.8,"v":2.92,"t":"γγ"}]},"mark":{"type":"text","align":"left","baseline":"middle","fontSize":9.5,"fontStyle":"italic"},"encoding":{"y":{"field":"v","type":"quantitative"},"text":{"field":"t"}}},
{"data":{"values":[{"m":472.8,"v":9.3,"t":"(b)"}]},"mark":{"type":"text","align":"center","baseline":"middle","fontSize":29,"font":"DejaVu Sans Mono"},"encoding":{"y":{"field":"v","type":"quantitative"},"text":{"field":"t"}}}
]}
]
}
